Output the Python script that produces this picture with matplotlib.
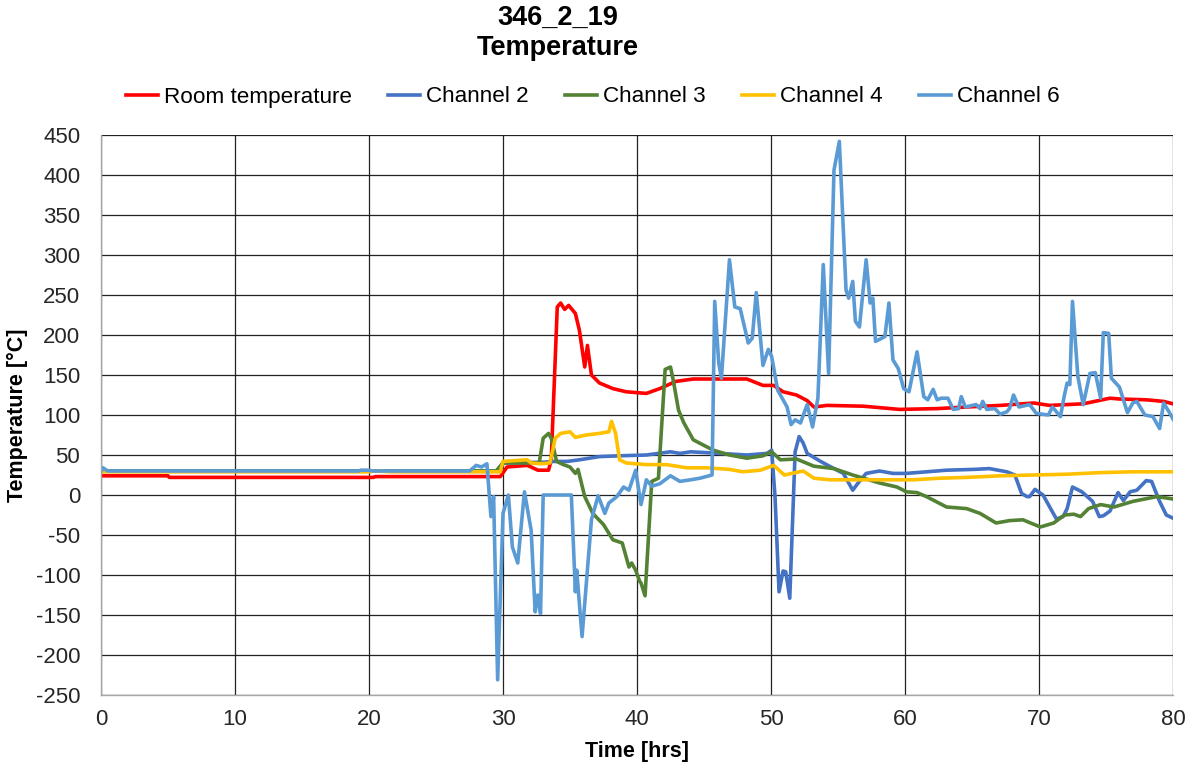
import matplotlib
matplotlib.use('Agg')
import matplotlib.pyplot as plt

# values (time in hrs, temperature in degC)
t_room = [0, 5.0, 5.1, 20.3, 20.5, 29.8, 30.3, 31.8, 32.1, 32.6, 33.4, 33.6, 34.05, 34.3, 34.6,
          34.9, 35.4, 35.7, 36.1, 36.3, 36.6, 37.2, 38.2, 39.2, 40.7, 41.7, 42.9, 44.2, 46.2,
          48.2, 49.4, 50.2, 50.9, 51.9, 52.7, 53.2, 54.2, 56.9, 59.6, 62.4, 64.6, 67.1, 69.6,
          70.8, 73.3, 75.3, 76.0, 78.0, 79.3, 80.0]
room = [24, 24, 22, 22, 23, 23, 35, 37, 35, 31, 31, 44, 235, 240, 232,
        237, 227, 206, 160, 187, 150, 140, 133, 129, 127, 133, 142, 145, 145,
        145, 137, 137, 129, 125, 118, 110, 112, 111, 107, 108, 110, 112, 115,
        112, 114, 121, 120, 119, 117, 114]

t_ch2 = [0, 29.5, 30.0, 33.0, 33.9, 34.8, 35.7, 37.2, 38.7, 40.7, 42.5, 43.2, 44.0, 46.2, 48.2,
         49.7, 50.05, 50.3, 50.6, 50.9, 51.1, 51.4, 51.8, 52.1, 52.4, 52.7, 53.7, 54.7, 55.4,
         56.1, 56.5, 57.1, 58.1, 59.1, 60.1, 61.6, 63.1, 65.1, 66.3, 67.6, 68.2, 68.7, 69.1,
         69.3, 69.7, 70.3, 70.8, 71.3, 71.8, 72.1, 72.5, 73.2, 74.0, 74.5, 74.8, 75.3, 75.9,
         76.3, 76.8, 77.3, 78.0, 78.4, 79.0, 79.5, 80.0]
ch2 = [30, 30, 40, 41, 42, 42, 44, 48, 49, 50, 54, 52, 54, 52, 50,
       52, 56, -2, -121, -95, -96, -129, 54, 73, 65, 52, 42, 33, 27,
       6, 15, 27, 30, 27, 27, 29, 31, 32, 33, 29, 25, 2, -2,
       -2, 7, 0, -15, -30, -27, -17, 10, 4, -8, -27, -26, -20, 3,
       -7, 4, 6, 18, 17, -8, -25, -29]

t_ch3 = [0, 29.5, 30.0, 32.7, 33.0, 33.4, 33.6, 34.0, 34.5, 35.0, 35.4, 35.6, 36.1, 36.7, 37.5,
         38.2, 38.9, 39.4, 39.6, 39.9, 40.2, 40.3, 40.6, 41.1, 41.6, 42.1, 42.5, 42.7, 43.1,
         43.5, 44.2, 45.0, 45.7, 46.9, 48.2, 49.4, 50.05, 50.7, 51.9, 53.2, 54.7, 56.1, 58.1,
         59.4, 60.1, 60.9, 61.6, 63.1, 64.6, 65.6, 66.8, 67.8, 68.8, 70.1, 71.1, 71.9, 72.6,
         73.1, 73.7, 74.6, 75.6, 77.0, 78.8, 80.0]
ch3 = [30, 30, 40, 40, 71, 77, 71, 42, 38, 35, 27, 32, -2, -23, -37,
       -56, -60, -90, -85, -94, -108, -110, -126, 17, 21, 157, 160, 144, 106,
       90, 69, 62, 56, 50, 46, 49, 54, 44, 45, 36, 33, 25, 15,
       10, 4, 3, -2, -15, -17, -23, -35, -32, -31, -40, -35, -25, -24,
       -27, -17, -12, -15, -8, -2, -5]

t_ch4 = [0, 20.0, 20.4, 21.7, 29.8, 30.0, 31.8, 32.1, 32.8, 33.5, 33.9, 34.3, 35.0, 35.4, 36.2,
         37.2, 37.9, 38.1, 38.4, 38.7, 39.2, 40.7, 42.2, 43.7, 45.2, 46.9, 47.9, 49.2, 50.2,
         51.0, 52.4, 53.2, 54.4, 58.1, 60.6, 62.6, 64.6, 67.1, 69.6, 72.1, 74.6, 77.0, 80.0]
ch4 = [29, 29, 30, 29, 29, 42, 44, 40, 39, 40, 71, 77, 79, 72, 75,
       77, 79, 92, 77, 44, 40, 38, 38, 34, 34, 32, 29, 31, 37,
       25, 30, 21, 19, 19, 19, 21, 22, 24, 25, 26, 28, 29, 29]

t_ch6 = [0, 0.15, 0.5, 19.2, 19.4, 19.9, 20.3, 27.5, 28.0, 28.4,
         28.8, 29.1, 29.3, 29.6, 30.0, 30.4, 30.7, 31.1, 31.6, 32.1,
         32.4, 32.6, 32.8, 33.0, 35.1, 35.4, 35.5, 35.9, 36.6, 37.1,
         37.6, 37.9, 38.5, 39.0, 39.4, 39.9, 40.3, 40.7, 41.1, 41.7,
         42.5, 43.2, 44.0, 44.7, 45.6, 45.8, 46.1, 46.3, 46.9, 47.3,
         47.7, 48.3, 48.6, 48.9, 49.4, 49.8, 50.05, 50.5, 51.2, 51.5,
         51.8, 52.2, 52.7, 53.1, 53.5, 53.9, 54.3, 54.7, 55.1, 55.6,
         55.8, 56.1, 56.3, 56.6, 57.1, 57.4, 57.6, 57.8, 58.5, 58.8,
         59.1, 59.5, 59.9, 60.3, 60.9, 61.4, 61.7, 62.1, 62.4, 62.7,
         63.2, 63.6, 64.0, 64.2, 64.5, 65.3, 65.6, 65.8, 66.1, 66.7,
         67.1, 67.6, 67.8, 68.1, 68.5, 69.3, 69.8, 70.7, 71.0, 71.6,
         71.9, 72.1, 72.3, 72.5, 72.9, 73.3, 73.8, 74.2, 74.6, 74.8,
         75.2, 75.4, 76.0, 76.6, 77.0, 77.3, 77.9, 78.5, 79.0, 79.3,
         79.7, 80.0]
ch6 = [29, 34, 30, 30, 31, 31, 30, 30, 37, 35,
       39, -27, -2, -231, -23, 0, -65, -85, 4, -44,
       -146, -125, -148, 0, 0, -121, -94, -177, -31, -1,
       -23, -10, -2, 10, 6, 31, -12, 19, 11, 14,
       24, 17, 19, 21, 25, 242, 165, 146, 294, 235,
       233, 190, 196, 253, 162, 182, 173, 131, 110, 88,
       94, 90, 113, 85, 121, 288, 152, 406, 442, 256,
       246, 267, 217, 210, 294, 240, 246, 192, 198, 240,
       169, 158, 133, 129, 179, 123, 119, 132, 119, 121,
       121, 107, 108, 123, 110, 113, 108, 117, 107, 108,
       101, 104, 108, 125, 110, 113, 102, 100, 110, 98,
       125, 140, 138, 242, 148, 113, 152, 153, 121, 203,
       202, 146, 135, 103, 115, 117, 100, 98, 83, 115,
       104, 95]

labels = ['Room temperature', 'Channel 2', 'Channel 3', 'Channel 4', 'Channel 6']
colors = ['#FF0000', '#4472C4', '#548235', '#FFC000', '#5B9BD5']

plt.rcParams['font.family'] = ['Liberation Sans', 'DejaVu Sans']
plt.rcParams['axes.unicode_minus'] = False

fig = plt.figure(figsize=(11.88, 7.69), dpi=100)
ax = fig.add_axes([101 / 1188, 1 - 695 / 769, 1072 / 1188, 560 / 769])

series = [(t_room, room), (t_ch2, ch2), (t_ch3, ch3), (t_ch4, ch4), (t_ch6, ch6)]
for (t, v), lab, c in zip(series, labels, colors):
    ax.plot(t, v, color=c, lw=2.6, label=lab, solid_joinstyle='round')

ax.set_xlim(0, 80)
ax.set_ylim(-250, 450)
ax.set_xticks(range(0, 81, 10))
ax.set_yticks(range(-250, 451, 50))
ax.grid(True, color='#222222', lw=0.9)
ax.set_axisbelow(True)
for s in ['top', 'right']:
    ax.spines[s].set_visible(False)
for s in ['left', 'bottom']:
    ax.spines[s].set_color('#a6a6a6')
    ax.spines[s].set_linewidth(1.0)
ax.tick_params(axis='both', length=0, labelsize=16, colors='#262626')
ax.tick_params(axis='y', pad=15)
ax.tick_params(axis='x', pad=10)

ax.set_xlabel('Time [hrs]', fontsize=15.5, fontweight='bold')
ax.set_ylabel('Temperature [°C]', fontsize=15.5, fontweight='bold')
ax.xaxis.set_label_coords(0.5, -0.082)
ax.yaxis.set_label_coords(-0.068, 0.5)

fig.text(558 / 1188, 1 - 33 / 769, '346_2_19\nTemperature', ha='center', va='center',
         fontsize=19.5, fontweight='bold', linespacing=1.2)

fig.legend(loc='center', bbox_to_anchor=(593 / 1188, 1 - 97 / 769), ncol=5, frameon=False,
           fontsize=16.2, handlelength=1.4, handletextpad=0.3, columnspacing=1.6)

fig.savefig('out.png', dpi=100)
